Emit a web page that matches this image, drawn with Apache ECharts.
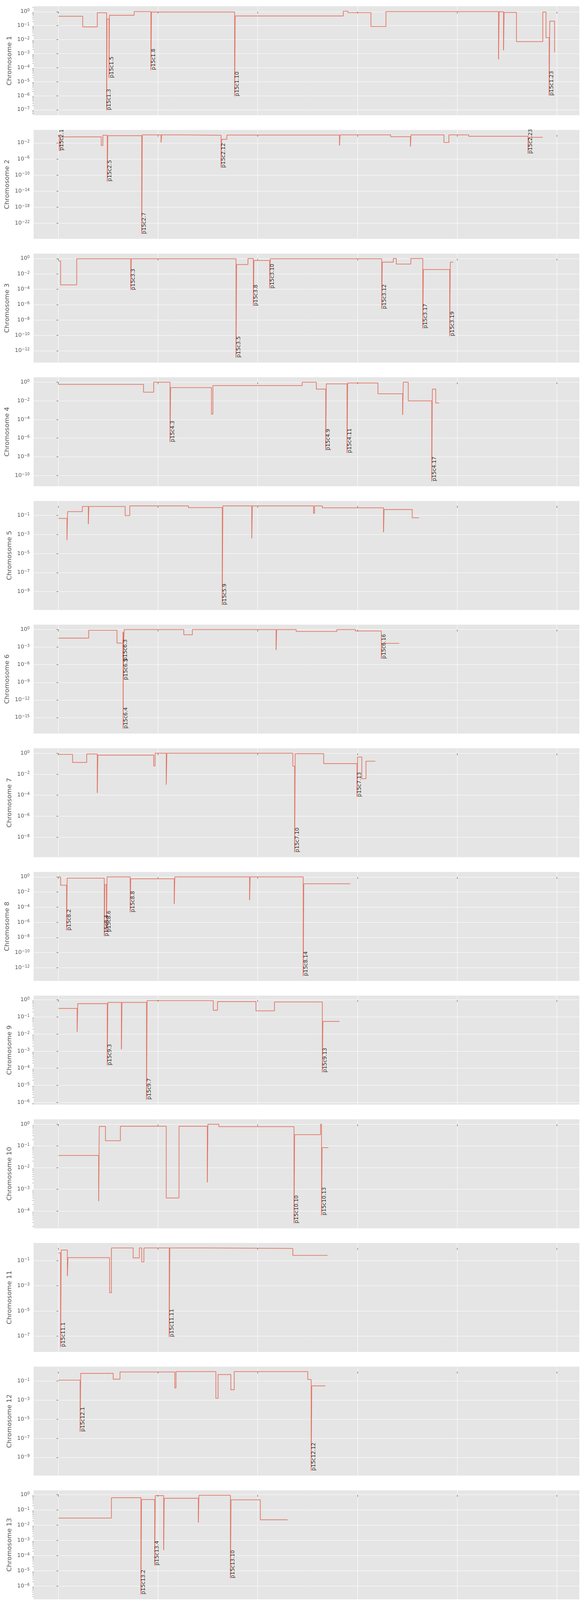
<!DOCTYPE html>
<html>
<head>
<meta charset="utf-8">
<title>p-values per chromosome</title>
<script src="https://cdn.jsdelivr.net/npm/echarts@6/dist/echarts.min.js"></script>
<style>
  html, body { margin: 0; padding: 0; background: #fff; }
  #chart { width: 1500px; height: 7000px; }
</style>
</head>
<body>
<div id="chart"></div>
<script>
// [position in Mb, log10(p)], a third entry is the name of a labelled marker
const chr1 = [[0,-0.33],[12.2,-1.09],[19.5,-0.08],[24.2,-7.04,'p15c1.3'],[24.4,-0.53],[25.4,-4.73,'p15c1.5'],[25.6,-0.26],[38.0,0],[46.4,-4.17,'p15c1.8'],[46.7,-0.03],[88.4,-6.04,'p15c1.10'],[88.7,-0.31],[142.9,0.03],[145.2,-0.07],[156.8,-1.06],[164.3,0],[220.8,-3.4],[221.1,-0.01],[223.3,-2.76],[223.6,-0.06],[229.8,-2.14],[243.0,-0.03],[244.6,-1.86],[246.2,-6.0,'p15c1.23'],[246.5,-0.68],[248.9,-2.9]];
const chr2 = [[0,-0.1],[0.4,-3.9,'p15c2.1'],[1.0,-0.5],[21.5,-2.65],[22.3,-0.1],[24.5,-11.6,'p15c2.5'],[24.8,-0.2],[41.8,-24.7,'p15c2.7'],[42.1,0],[51.5,-1.9],[51.8,0],[62.4,-0.1],[81.6,-8.2,'p15c2.12'],[81.9,-1.1],[84.5,-0.05],[141.0,-2.65],[141.3,0],[166.7,-0.46],[176.6,-2.9],[176.9,0],[193.4,-1.9],[195.9,0],[205.8,-0.35],[235.6,-4.7,'p15c2.23'],[235.9,-0.6],[243.0,-0.6]];
const chr3 = [[0,-0.31],[1.1,-3.43],[9.2,-0.03],[36.3,-4.1,'p15c3.3'],[36.6,-0.03],[89.1,-12.9,'p15c3.5'],[89.4,-0.78],[95.1,0],[97.8,-6.17,'p15c3.8'],[98.1,-0.25],[106.0,-3.9,'p15c3.10'],[106.3,-0.03],[162.2,-6.57,'p15c3.12'],[162.5,-0.47],[168.0,0],[169.5,-0.72],[176.8,0],[182.8,-9.1,'p15c3.17'],[183.1,-1.43],[196.3,-10.1,'p15c3.19'],[196.6,-0.47],[198.0,-0.47]];
const chr4 = [[0,-0.23],[42.7,-1.07],[47.8,0],[56.0,-6.42,'p15c4.3'],[56.3,-0.58],[76.8,-3.43],[77.5,-0.36],[122.3,0],[129.4,-0.74],[134.1,-7.3,'p15c4.9'],[134.4,-0.18],[144.8,-7.6,'p15c4.11'],[145.1,-0.08],[160.3,-1.24],[172.7,-3.5],[173.0,0],[175.5,-2.0],[187.3,-10.63,'p15c4.17'],[187.6,-0.74],[189.3,-2.23],[191.0,-2.23]];
const chr5 = [[0,-1.32],[4.3,-3.6],[4.6,-0.6],[12.0,-0.06],[15.0,-1.92],[15.3,-0.06],[33.5,-1.02],[35.8,0],[65.2,-0.18],[82.2,-10.4,'p15c5.9'],[82.5,0],[97.0,-3.4],[97.3,0],[128.0,-0.78],[128.5,0],[132.4,-0.2],[163.1,-2.76],[163.4,-0.38],[177.5,-1.25],[180.9,-1.25]];
const chr6 = [[0,-1.46],[15.2,-0.12],[29.4,-2.3],[32.4,-5.3,'p15c6.3'],[32.45,-0.4],[32.5,-16.9,'p15c6.4'],[32.55,-0.5],[32.6,-8.6,'p15c6.5'],[32.65,-3.1],[33.0,0],[62.9,-0.89],[67.2,0],[109.2,-3.48],[109.5,0],[119.3,-0.32],[139.7,0],[149.0,-0.24],[162.0,-4.98,'p15c6.16'],[162.3,-2.35],[171.0,-2.35]];
const chr7 = [[0,-0.11],[7.1,-0.88],[14.2,-0.07],[19.5,-3.78],[19.8,-0.18],[47.8,-1.21],[48.5,0],[54.1,-2.99],[54.4,0],[117.6,-1.24],[118.5,-9.45,'p15c7.10'],[118.8,-0.04],[133.1,-0.99],[149.8,-4.16,'p15c7.13'],[150.1,-0.36],[152.2,-2.43],[154.3,-0.76],[159.0,-0.76]];
const chr8 = [[0,0],[1.1,-1.1],[4.1,-7.08,'p15c8.2'],[4.4,-0.16],[23.0,-7.85,'p15c8.4'],[23.3,-1.03],[24.1,-7.28,'p15c8.6'],[24.4,0],[36.0,-4.68,'p15c8.8'],[36.3,-0.25],[58.1,-3.57],[58.4,0],[95.9,-3.07],[96.2,0],[122.8,-13.1,'p15c8.14'],[123.1,-0.91],[146.4,-0.91]];
const chr9 = [[0,-0.5],[9.4,-1.87],[9.7,-0.22],[24.5,-3.83,'p15c9.3'],[24.8,-0.15],[31.6,-2.89],[31.9,-0.15],[44.2,-5.84,'p15c9.7'],[44.5,-0.04],[77.7,-0.61],[79.8,-0.1],[99.1,-0.64],[108.4,-0.12],[132.4,-4.25,'p15c9.13'],[132.7,-1.26],[141.0,-1.26]];
const chr10 = [[0,-1.44],[20.2,-3.55],[20.5,-0.1],[23.6,-0.76],[31.1,-0.09],[54.1,-3.4],[60.5,-0.09],[74.7,-2.68],[75.0,0],[80.5,-0.11],[118.2,-4.57,'p15c10.10'],[118.5,-0.48],[131.5,0],[132.0,-4.2,'p15c10.13'],[132.3,-1.08],[135.4,-1.08]];
const chr11 = [[0,-0.4],[1.1,-7.86,'p15c11.1'],[1.4,-0.17],[4.5,-2.24],[4.8,-0.77],[25.7,-3.56],[26.6,0],[37.5,-0.79],[40.6,0],[41.8,-1.11],[42.9,0],[55.6,-7.07,'p15c11.11'],[55.9,0],[74.7,-0.04],[117.6,-0.59],[135.0,-0.59]];
const chr12 = [[0,-0.9],[10.9,-6.31,'p15c12.1'],[11.2,-0.19],[27.5,-0.8],[30.9,-0.04],[58.4,-1.72],[59.0,0],[79.0,-2.8],[80.1,-0.31],[86.5,-1.91],[88.2,0],[125.1,-0.83],[126.8,-10.4,'p15c12.12'],[127.1,-1.5],[133.9,-1.5]];
const chr13 = [[0,-1.53],[26.6,-0.19],[41.4,-6.54,'p15c13.2'],[41.7,-0.31],[48.3,-4.64,'p15c13.4'],[48.6,-0.05],[52.8,-3.63],[53.1,-0.23],[70.2,-1.82],[70.5,-0.03],[86.3,-5.48,'p15c13.10'],[86.6,-0.33],[101.3,-1.64],[115.0,-1.64]];
const chr14 = [[0,-0.01],[20.4,-0.71],[24.0,-8.18,'p15c14.2'],[24.3,-0.42],[29.2,0],[32.0,-0.88],[35.0,-0.09],[46.0,-2.48],[46.3,-0.15],[68.7,-0.03],[76.2,-0.3],[106.0,-6.79,'p15c14.11'],[107.3,-6.79]];
const chr15 = [[0,-0.04],[24.3,-4.38,'p15c15.1'],[25.2,-0.04],[25.8,-7.6,'p15c15.3'],[26.1,-1.23],[30.1,-0.16],[46.0,-2.35],[46.9,-0.04],[82.6,0],[85.4,-0.33],[88.6,-2.06],[102.6,-2.06]];
const chr16 = [[0,-0.57],[1.9,-5.51,'p15c16.1'],[2.2,-0.19],[8.8,-8.52,'p15c16.3'],[9.1,-0.43],[21.3,0],[22.8,-3.68],[23.1,-0.07],[66.9,0],[75.7,-0.7],[90.4,-0.7]];
const chr17 = [[0,-0.96],[5.4,-5.77,'p15c17.1'],[5.7,-1.23],[15.7,0],[39.9,-6.27,'p15c17.4'],[40.2,0],[43.6,-15.96,'p15c17.6'],[44.3,0],[70.2,-0.41],[81.3,-0.41]];
const chr18 = [[0,-1.56],[10.1,-2.7],[12.2,0],[27.7,-0.78],[29.0,-0.08],[51.5,-6.24,'p15c18.5'],[51.8,-0.08],[55.6,-3.3],[55.9,-0.66],[78.1,-0.66]];
const chr19 = [[0,-0.46],[24.0,-10.5,'p15c19.1'],[24.3,-0.15],[28.8,-3.44],[29.6,-0.15],[48.3,-3.44],[56.7,-0.13],[59.0,-0.13]];
const chr20 = [[0,-1.04],[5.4,-10.8,'p15c20.1'],[5.7,-0.47],[12.0,-1.49],[12.7,0],[52.6,-1.83],[54.5,-0.52],[62.9,-0.52]];
const chr21 = [[0,-1.14],[28.7,-7.43,'p15c21.1'],[29.0,-0.39],[36.9,-1.82],[37.2,-0.14],[40.4,-1.18],[48.1,-1.18]];
const chr22 = [[0,-0.2],[20.2,-4.19,'p15c22.1'],[20.8,0],[22.5,-0.85],[29.6,0],[31.8,-0.51],[51.5,-0.51]];

const chromosomes = [chr1, chr2, chr3, chr4, chr5, chr6, chr7, chr8, chr9, chr10, chr11,
  chr12, chr13, chr14, chr15, chr16, chr17, chr18, chr19, chr20, chr21, chr22];
const chromNames = chromosomes.map((c, i) => 'Chromosome ' + (i + 1));
// decades between labelled y ticks
const yTickStep = [1, 4, 2, 2, 2, 3, 2, 2, 1, 1, 2, 2, 1, 2, 1, 2, 2, 1, 2, 2, 1, 1];
const xTicks = [0, 50, 100, 150, 200, 250];

const FONT = '"DejaVu Sans", sans-serif';
const chart = echarts.init(document.getElementById('chart'), null, { width: 1500, height: 7000 });

const ctx = document.createElement('canvas').getContext('2d');
function textWidth(s, size) {
  ctx.font = size + 'px "DejaVu Sans"';
  return ctx.measureText(s).width;
}
function expText(v) {
  return v < 0 ? '\u2212' + (-v) : String(v);
}

const allX = chromosomes.flat().map(p => p[0]);
const x0 = Math.min(...allX), x1 = Math.max(...allX);
const xMin = x0 - 0.05 * (x1 - x0), xMax = x1 + 0.05 * (x1 - x0);

const grids = [], xAxes = [], yAxes = [], minorAxes = [], series = [];
const last = chromosomes.length - 1;

chromosomes.forEach((pts, i) => {
  grids.push({
    left: 86, right: 17, top: 16 + i * 316.6, height: 279,
    show: true, backgroundColor: '#E5E5E5', borderWidth: 0
  });

  const ys = pts.map(p => p[1]);
  const lo = Math.min(...ys), hi = Math.max(...ys);
  const yMin = lo - 0.05 * (hi - lo), yMax = hi + 0.05 * (hi - lo);
  const step = yTickStep[i];
  const majors = [];
  for (let d = Math.floor(yMin) - step; d <= Math.ceil(yMax) + 2 * step; d += step) {
    if (d >= yMin && d <= yMax) majors.push(d);
  }
  let labelW = 0;
  majors.forEach(d => {
    labelW = Math.max(labelW, textWidth('10', 13.9) + textWidth(expText(d), 9.7));
  });

  xAxes.push({
    type: 'value', gridIndex: i, min: xMin, max: xMax,
    axisLine: { show: false },
    axisTick: { show: true, length: 5, lineStyle: { color: '#555' }, customValues: xTicks },
    axisLabel: {
      show: i === last, customValues: xTicks, margin: 9, color: '#555',
      fontSize: 13.9, fontFamily: FONT, formatter: v => (v / 100).toFixed(1)
    },
    splitLine: { show: true, lineStyle: { color: '#fff', width: 1 } },
    name: i === last ? 'Genomic Position' : '',
    nameLocation: 'middle', nameGap: 27,
    nameTextStyle: { fontSize: 16.7, color: '#555', fontFamily: FONT }
  });

  yAxes.push({
    type: 'value', gridIndex: i, min: yMin, max: yMax,
    name: chromNames[i], nameLocation: 'middle', nameRotate: 90,
    nameGap: 10 + labelW + 8,
    nameTextStyle: { fontSize: 16.7, color: '#555', fontFamily: FONT },
    axisLine: { show: false },
    axisTick: { show: true, length: 5, lineStyle: { color: '#555' }, customValues: majors },
    axisLabel: {
      customValues: majors, margin: 10,
      formatter: v => '{b|10}{s|' + expText(Math.round(v)) + '}',
      rich: {
        b: { fontSize: 13.9, color: '#555', fontFamily: FONT, lineHeight: 16 },
        s: { fontSize: 9.7, color: '#555', fontFamily: FONT, lineHeight: 9, verticalAlign: 'top' }
      }
    },
    splitLine: { show: true, lineStyle: { color: '#fff', width: 1 } }
  });

  if (step === 1) {
    const minors = [];
    for (let n = Math.floor(yMin); n <= Math.ceil(yMax); n++) {
      for (let k = 2; k < 10; k++) {
        const v = n + Math.log10(k);
        if (v >= yMin && v <= yMax) minors.push(v);
      }
    }
    minorAxes.push({
      type: 'value', gridIndex: i, min: yMin, max: yMax, position: 'left',
      axisLine: { show: false },
      axisTick: { show: true, length: 2.8, lineStyle: { color: '#555', width: 0.8 }, customValues: minors },
      axisLabel: { show: false },
      splitLine: { show: false }
    });
  }

  const line = pts.map(p => [p[0], p[1]]);
  series.push({
    type: 'line', xAxisIndex: i, yAxisIndex: i, data: line, step: 'end',
    showSymbol: false, symbol: 'none', silent: true, z: 2,
    lineStyle: { color: 'rgba(226,74,51,0.4)', width: 2.1 }
  });
  series.push({
    type: 'line', xAxisIndex: i, yAxisIndex: i, data: line, step: 'end',
    showSymbol: false, symbol: 'none', silent: true, z: 3,
    lineStyle: { color: 'rgba(226,74,51,0.9)', width: 0.8 }
  });
  series.push({
    type: 'scatter', xAxisIndex: i, yAxisIndex: i, symbolSize: 1, silent: true, z: 4,
    itemStyle: { color: 'rgba(0,0,0,0)' },
    data: pts.filter(p => p[2]).map(p => ({ name: p[2], value: [p[0], p[1]] })),
    label: {
      show: true, formatter: '{b}', position: 'inside', rotate: 90,
      align: 'left', verticalAlign: 'top',
      color: '#000', fontSize: 13.5, fontFamily: FONT
    }
  });
});

chart.setOption({
  animation: false,
  backgroundColor: '#fff',
  textStyle: { fontFamily: FONT },
  title: {
    text: '1e8', right: 17, top: 6971, padding: 0,
    textStyle: { fontSize: 13.9, color: '#555', fontWeight: 'normal', fontFamily: FONT }
  },
  grid: grids,
  xAxis: xAxes,
  yAxis: yAxes.concat(minorAxes),
  series: series
});
</script>
</body>
</html>
